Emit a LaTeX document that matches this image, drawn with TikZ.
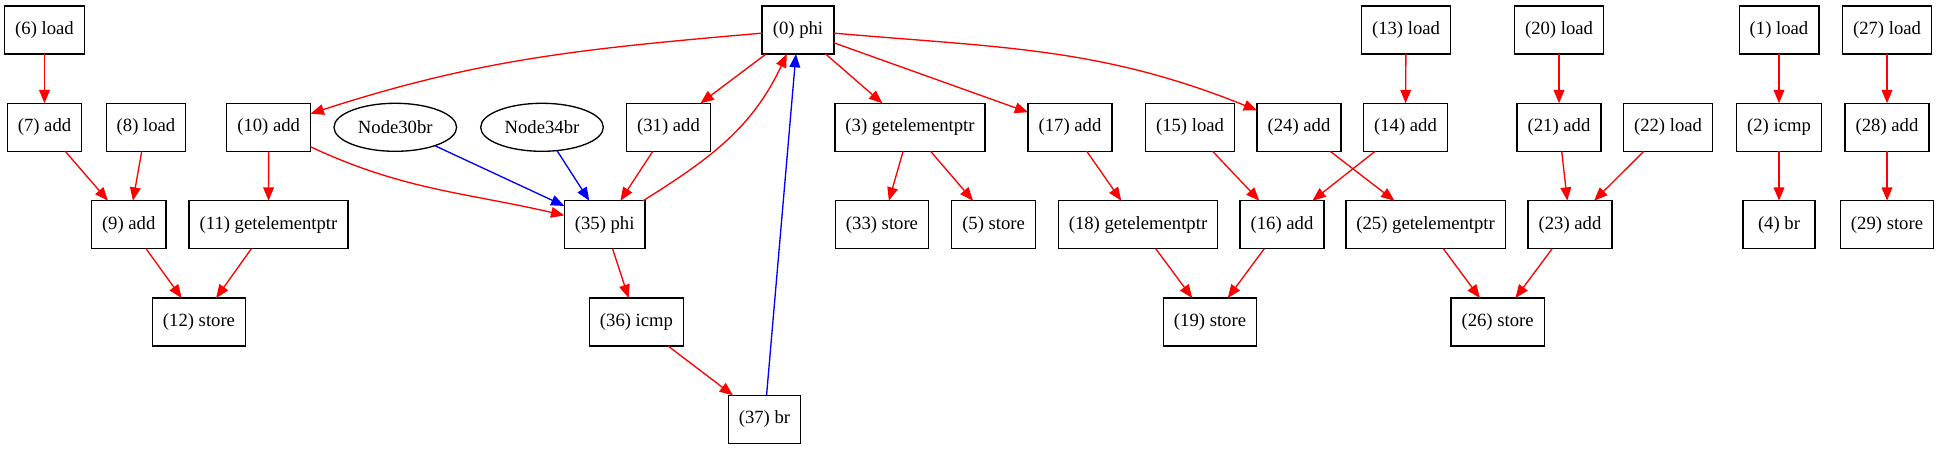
\documentclass[tikz,border=0pt]{standalone}
\usepackage{fontspec}
\setmainfont{Liberation Serif}
\usetikzlibrary{shapes.geometric,arrows.meta}

\begin{document}
\begin{tikzpicture}[
  x=0.75pt, y=0.75pt,
  block/.style={
    rectangle,
    draw=black,
    line width=1pt,
    font=\fontsize{14}{16}\selectfont,
    inner xsep=7.9pt,
    %inner ysep=0pt,
    outer sep=0pt,
    minimum width=54pt,
    minimum height=36pt
  },
  oval/.style={
    ellipse,
    draw=black,
    line width=1pt,
    font=\fontsize{14}{16}\selectfont,
    inner sep=0pt,
    outer sep=0pt,
    minimum width=92pt,
    minimum height=36pt
  },
  dep/.style ={draw=red, line width=1pt, -{Triangle[length=10pt,width=8pt]}},
  ctl/.style ={draw=blue, line width=1pt, -{Triangle[length=10pt,width=8pt]}}]
  \useasboundingbox (0,0) rectangle (1939,-449);
  % first row
  \node[block] (load6) at (44.5,-30) {(6) load};
  \node[block] (phi0) at (798,-30) {(0) phi};
  \node[block] (load13) at (1406,-30) {(13) load};
  \node[block] (load20) at (1559,-30) {(20) load};
  \node[block] (load1) at (1779,-30) {(1) load};
  \node[block] (load27) at (1887,-30) {(27) load};
  % second row
  \node[block] (add7) at (44.5,-127.3) {(7) add};
  \node[block] (load8) at (146,-127.3) {(8) load};
  \node[block] (add10) at (268.7,-127.3) {(10) add};
  \node[oval] (br30) at (395.3,-127.3) {Node30br};
  \node[oval] (br34) at (542,-127.3) {Node34br};
  \node[block] (add31) at (668.5,-127.3) {(31) add};
  \node[block] (gep3) at (910,-127.3) {(3) getelementptr};
  \node[block] (add17) at (1070,-127.3) {(17) add};
  \node[block] (load15) at (1190,-127.3) {(15) load};
  \node[block] (add24) at (1299,-127.3) {(24) add};
  \node[block] (add14) at (1405.5,-127.3) {(14) add};
  \node[block] (add21) at (1559,-127.3) {(21) add};
  \node[block] (load22) at (1668,-127.3) {(22) load};
  \node[block] (icmp2) at (1779,-127.3) {(2) icmp};
  \node[block] (add28) at (1887,-127.3) {(28) add};
  % third row
  \node[block] (add9) at (128.7,-224.7) {(9) add};
  \node[block] (gep11) at (268.5,-224.7) {(11) getelementptr};
  \node[block] (phi35) at (604.7,-224.7) {(35) phi};
  \node[block] (store33) at (882,-224.7) {(33) store};
  \node[block] (store5) at (993.6,-224.7) {(5) store};
  \node[block] (gep18) at (1138,-224.7) {(18) getelementptr};
  \node[block] (add16) at (1282,-224.7) {(16) add};
  \node[block] (gep25) at (1425.6,-224.7) {(25) getelementptr};
  \node[block] (add23) at (1570,-224.7) {(23) add};
  \node[block] (br4) at (1779,-224.7) {(4) br};
  \node[block] (store29) at (1887,-224.7) {(29) store};
  % fourth row
  \node[block] (store12) at (199,-322) {(12) store};
  \node[block] (icmp36) at (636.5,-322) {(36) icmp};
  \node[block] (store19) at (1210,-322) {(19) store};
  \node[block] (store26) at (1497.6,-322) {(26) store};
  % fifth row
  \node[block] (br37) at (764.5,-419.3) {(37) br};

  % edges
  \draw[dep] (load6) -- (add7);
  \draw[dep] (add7) -- (add9);
  \draw[dep] (load8) -- (add9);
  \draw[dep] (add10) -- (gep11);
  \draw[dep] (add9) -- (store12);
  \draw[dep] (gep11) -- (store12);
  \draw[dep] (phi0) to[out=185,in=18] (add10);
  \draw[dep] (phi0) -- (add31);
  \draw[dep] (phi0) -- (gep3);
  \draw[dep] (phi0) -- (add17);
  \draw[dep] (phi0) to[out=-5,in=158] (add24);
  \draw[dep] (add10) to[out=-25,in=167] (phi35);
  \draw[dep] (add31) -- (phi35);
  \draw[dep] (phi35) to[out=32,in=-115] (phi0);
  \draw[dep] (phi35) -- (icmp36);
  \draw[dep] (icmp36) -- (br37);
  \draw[ctl] (br30) -- (phi35);
  \draw[ctl] (br34) -- (phi35);
  \draw[ctl] (br37) -- (phi0);
  \draw[dep] (gep3) -- (store33);
  \draw[dep] (gep3) -- (store5);
  \draw[dep] (add17) -- (gep18);
  \draw[dep] (load15) -- (add16);
  \draw[dep] (add14) -- (add16);
  \draw[dep] (load13) -- (add14);
  \draw[dep] (gep18) -- (store19);
  \draw[dep] (add16) -- (store19);
  \draw[dep] (add24) -- (gep25);
  \draw[dep] (gep25) -- (store26);
  \draw[dep] (add23) -- (store26);
  \draw[dep] (load20) -- (add21);
  \draw[dep] (add21) -- (add23);
  \draw[dep] (load22) -- (add23);
  \draw[dep] (load1) -- (icmp2);
  \draw[dep] (icmp2) -- (br4);
  \draw[dep] (load27) -- (add28);
  \draw[dep] (add28) -- (store29);
\end{tikzpicture}
\end{document}
